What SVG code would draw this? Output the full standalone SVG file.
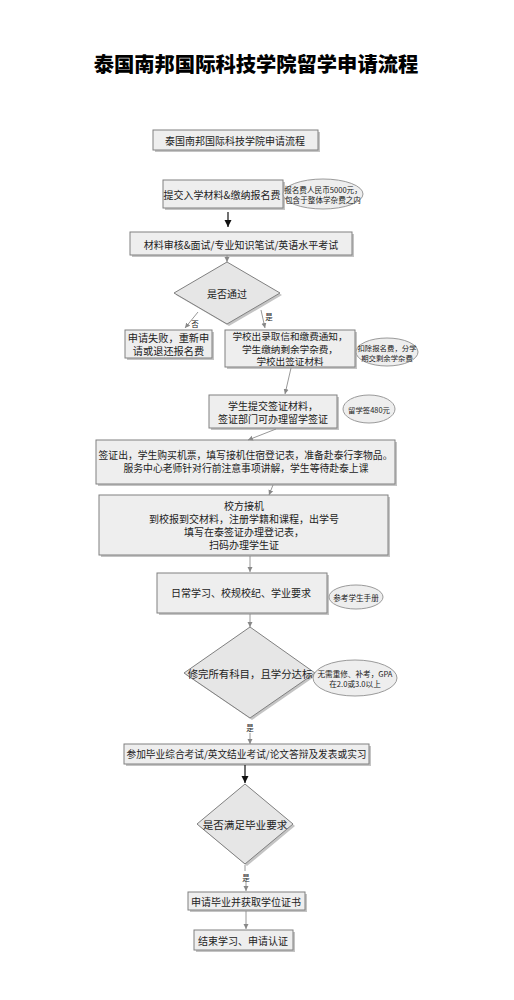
<svg xmlns="http://www.w3.org/2000/svg" width="514" height="1000" viewBox="0 0 514 1000">
<defs>
<marker id="ag" markerWidth="6" markerHeight="6" refX="5" refY="3" orient="auto" markerUnits="userSpaceOnUse"><path d="M0,0.5 L5,3 L0,5.5 z" fill="#888"/></marker>
<marker id="ab" markerWidth="8" markerHeight="8" refX="7" refY="4" orient="auto" markerUnits="userSpaceOnUse"><path d="M0,0.5 L7,4 L0,7.5 z" fill="#111"/></marker>
</defs>
<style>
text{font-family:"Noto Sans CJK SC","Noto Sans",sans-serif;fill:#222;text-anchor:middle;dominant-baseline:central}
.box{fill:#eeeeee;stroke:#808080;stroke-width:1}
.sh{fill:#c4c4c4}
.dia{fill:#e6e6e6;stroke:#808080;stroke-width:1}
.ell{fill:#eeeeee;stroke:#9a9a9a;stroke-width:1}
.t{font-size:10px}
.s{font-size:7.6px}
.lab{font-size:7.5px}
.c{fill:none;stroke:#8c8c8c;stroke-width:0.9;marker-end:url(#ag)}
.cb{fill:none;stroke:#111;stroke-width:1.2;marker-end:url(#ab)}
.cl{fill:none;stroke:#8c8c8c;stroke-width:0.9}
</style>
<rect width="514" height="1000" fill="#ffffff"/>
<text x="256" y="63" style="font-size:20.3px;font-weight:900;fill:#000">泰国南邦国际科技学院留学申请流程</text>

<g id="n1"><rect class="sh" x="155" y="132" width="165" height="20"/><rect class="box" x="153" y="130" width="165" height="20"/><text class="t" x="235" y="140">泰国南邦国际科技学院申请流程</text></g>

<g id="n2"><rect class="sh" x="165" y="182" width="120" height="28"/><rect class="box" x="163" y="180" width="120" height="28"/><text class="t" x="222" y="194">提交入学材料&amp;缴纳报名费</text></g>
<g id="e1"><ellipse class="ell" cx="323" cy="194" rx="40" ry="15"/><text class="s" x="323" y="189">报名费人民币5000元，</text><text class="s" x="323" y="199">包含于整体学杂费之内</text></g>

<g id="n3"><rect class="sh" x="132" y="234" width="222" height="23"/><rect class="box" x="130" y="232" width="222" height="23"/><text class="t" x="241" y="244">材料审核&amp;面试/专业知识笔试/英语水平考试</text></g>

<g id="d1"><polygon class="sh" points="229,264 282,295 229,326 176,295"/><polygon class="dia" points="227,262 280,293 227,324 174,293"/><text class="t" x="227" y="293">是否通过</text></g>

<g id="n4"><rect class="sh" x="127" y="332" width="87" height="28"/><rect class="box" x="125" y="330" width="87" height="28"/><text class="t" x="168.5" y="337.5" style="font-size:10.2px">申请失败，重新申</text><text class="t" x="168.5" y="350.5" style="font-size:10.2px">请或退还报名费</text></g>

<g id="n5"><rect class="sh" x="227" y="332" width="130" height="37"/><rect class="box" x="225" y="330" width="130" height="37"/><text class="t" x="290" y="336.3" style="font-size:9.6px">学校出录取信和缴费通知，</text><text class="t" x="290" y="348.5" style="font-size:9.6px">学生缴纳剩余学杂费，</text><text class="t" x="290" y="360.7" style="font-size:9.6px">学校出签证材料</text></g>
<g id="e2"><ellipse class="ell" cx="387" cy="352" rx="31" ry="14"/><text class="s" x="387" y="347" style="font-size:7.4px">扣除报名费，分学</text><text class="s" x="387" y="357" style="font-size:7.4px">期交剩余学杂费</text></g>

<g id="n6"><rect class="sh" x="211" y="397" width="128" height="33"/><rect class="box" x="209" y="395" width="128" height="33"/><text class="t" x="273" y="405">学生提交签证材料，</text><text class="t" x="273" y="418">签证部门可办理留学签证</text></g>
<g id="e3"><ellipse class="ell" cx="369" cy="409" rx="26" ry="14"/><text class="s" x="369" y="409" style="font-size:7.4px">留学签480元</text></g>

<g id="n7"><rect class="sh" x="98" y="442" width="299" height="44"/><rect class="box" x="96" y="440" width="299" height="44"/><text class="t" x="245.5" y="455" style="font-size:9.8px">签证出，学生购买机票，填写接机住宿登记表，准备赴泰行李物品。</text><text class="t" x="246" y="468" style="font-size:9.8px">服务中心老师针对行前注意事项讲解，学生等待赴泰上课</text></g>

<g id="n8"><rect class="sh" x="101" y="497" width="289" height="60"/><rect class="box" x="99" y="495" width="289" height="60"/><text class="t" x="244" y="505.5">校方接机</text><text class="t" x="244" y="518.5">到校报到交材料，注册学籍和课程，出学号</text><text class="t" x="244" y="531.5">填写在泰签证办理登记表，</text><text class="t" x="244" y="544.5">扫码办理学生证</text></g>

<g id="n9"><rect class="sh" x="159" y="575" width="170" height="40"/><rect class="box" x="157" y="573" width="170" height="40"/><text class="t" x="241" y="592">日常学习、校规校纪、学业要求</text></g>
<g id="e4"><ellipse class="ell" cx="356" cy="597" rx="27" ry="12"/><text class="s" x="356" y="597">参考学生手册</text></g>

<g id="d2"><polygon class="sh" points="252,629 317,675 252,720 186,675"/><polygon class="dia" points="250,627 315,673 250,718 184,673"/><text class="t" x="250" y="673" style="font-size:10.4px">修完所有科目，且学分达标</text></g>
<g id="e5"><ellipse class="ell" cx="355" cy="678" rx="42" ry="18"/><text class="s" x="355" y="673">无需重修、补考，GPA</text><text class="s" x="355" y="683">在2.0或3.0以上</text></g>

<g id="n10"><rect class="sh" x="126" y="746" width="245" height="20"/><rect class="box" x="124" y="744" width="245" height="20"/><text class="t" x="246.5" y="754" style="font-size:9.7px">参加毕业综合考试/英文结业考试/论文答辩及发表或实习</text></g>

<g id="d3"><polygon class="sh" points="247,786 295,826 247,866 199,826"/><polygon class="dia" points="245,784 293,824 245,864 197,824"/><text class="t" x="245" y="824" style="font-size:10.6px">是否满足毕业要求</text></g>

<g id="n11"><rect class="sh" x="190" y="894" width="117" height="18"/><rect class="box" x="188" y="892" width="117" height="18"/><text class="t" x="246" y="901">申请毕业并获取学位证书</text></g>

<g id="n12"><rect class="sh" x="196" y="932" width="99" height="20"/><rect class="box" x="194" y="930" width="99" height="20"/><text class="t" x="243" y="940">结束学习、申请认证</text></g>

<g id="connectors">
<path class="cb" d="M228,212 L228,227"/>
<path class="c" d="M227,255 L227,262"/>
<path class="c" d="M198,312 L185,328"/>
<text class="lab" x="195" y="323">否</text>
<path class="c" d="M261,310 L265,328"/>
<text class="lab" x="269" y="316">是</text>
<path class="c" d="M291,368 L285,394"/>
<path class="c" d="M276,429 L248,440"/>
<path class="c" d="M273,485 L269,495"/>
<path class="c" d="M250,556 L250,572"/>
<path class="c" d="M250,614 L250,627"/>
<text class="lab" x="250" y="727">是</text>
<path class="c" d="M250,733 L250,744"/>
<path class="cb" d="M245,765 L245,783"/>
<path class="cl" d="M245,865 L245,871"/>
<text class="lab" x="246" y="877">是</text>
<path class="c" d="M246,881 L246,891"/>
<path class="c" d="M246,911 L246,929"/>
</g>
</svg>
